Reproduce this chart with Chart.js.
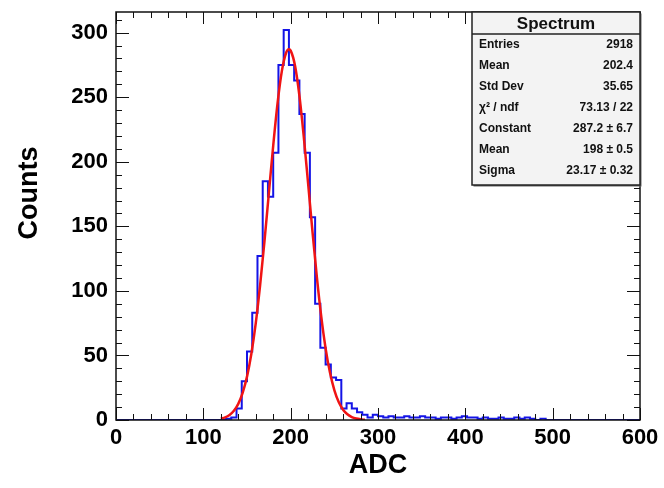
<!DOCTYPE html>
<html>
<head>
<meta charset="utf-8">
<script src="https://cdn.jsdelivr.net/npm/chart.js@4.4.0/dist/chart.umd.min.js"></script>
<style>
  html, body { margin: 0; padding: 0; background: #fff; }
</style>
</head>
<body>
<canvas id="spectrum" width="664" height="488"></canvas>
<script>
// histogram: 100 bins, 6 ADC wide, from 0 to 600
var binLow = 0;
var binWidth = 6;
var counts = [
  0, 0, 0, 0, 0, 0, 0, 0, 0, 0,
  0, 0, 0, 0, 0, 0, 0, 0, 0, 0,
  0, 1, 2, 9, 30, 53, 83, 127, 185, 173,
  207, 275, 302, 275, 263, 237, 207, 157, 90, 56,
  43, 33, 31, 9, 13, 9, 6, 4, 2, 4,
  3, 2, 3, 2, 2, 3, 2, 2, 3, 2,
  2, 1, 2, 2, 1, 2, 3, 2, 2, 1,
  2, 1, 1, 2, 1, 1, 2, 1, 2, 1,
  0, 1, 0, 0, 0, 0, 0, 0, 0, 0,
  0, 0, 0, 0, 0, 0, 0, 0, 0, 0
];

// gaussian fit curve (red)
var fitX = [120, 125, 130, 135, 140, 145, 150, 155, 160, 165, 170, 175, 180, 185, 190, 195, 198,
            200, 205, 210, 215, 220, 225, 230, 235, 240, 245, 250, 255, 260, 265, 270, 275, 280, 285];
var fitY = [1.0, 2.0, 3.9, 7.1, 12.5, 21.0, 33.6, 51.3, 74.8, 104.2, 138.4, 175.5, 212.4, 245.4, 270.6, 284.8, 287.2,
            286.1, 274.4, 251.2, 219.4, 183.0, 145.7, 110.7, 80.2, 55.5, 36.7, 23.2, 13.9, 8.0, 4.4, 2.3, 1.1, 0.5, 0.2];

var xTicks = [0, 100, 200, 300, 400, 500, 600];
var yTicks = [0, 50, 100, 150, 200, 250, 300];

var statTitle = "Spectrum";
var statLabels = ["Entries", "Mean", "Std Dev", "\u03c7\u00b2 / ndf", "Constant", "Mean", "Sigma"];
var statValues = ["2918", "202.4", "35.65", "73.13 / 22", "287.2 \u00b1 6.7", "198 \u00b1 0.5", "23.17 \u00b1 0.32"];

var FONT = '"Liberation Sans", Arial, Helvetica, sans-serif';

var histPoints = [];
for (var i = 0; i < counts.length; i++) {
  histPoints.push({ x: binLow + i * binWidth, y: counts[i] });
}
histPoints.push({ x: binLow + counts.length * binWidth, y: counts[counts.length - 1] });

var fitPoints = fitX.map(function (v, i) { return { x: v, y: fitY[i] }; });

// ROOT style frame with inward ticks on all four sides
var rootFrame = {
  id: 'rootFrame',
  afterDatasetsDraw: function (chart) {
    var ctx = chart.ctx, a = chart.chartArea;
    var sx = chart.scales.x, sy = chart.scales.y;
    ctx.save();
    ctx.strokeStyle = '#111';
    ctx.lineWidth = 1;
    ctx.beginPath();
    for (var v = 0; v <= 600; v += 20) {
      var px = Math.round(sx.getPixelForValue(v)) + 0.5;
      var len = v % 100 === 0 ? 12 : 6;
      ctx.moveTo(px, a.bottom); ctx.lineTo(px, a.bottom - len);
      ctx.moveTo(px, a.top); ctx.lineTo(px, a.top + len);
    }
    for (var w = 0; w <= 316; w += 10) {
      var py = Math.round(sy.getPixelForValue(w)) + 0.5;
      var l2 = w % 50 === 0 ? 13 : 6;
      ctx.moveTo(a.left, py); ctx.lineTo(a.left + l2, py);
      ctx.moveTo(a.right, py); ctx.lineTo(a.right - l2, py);
    }
    ctx.stroke();
    ctx.lineWidth = 1.5;
    ctx.strokeRect(a.left, a.top, a.right - a.left, a.bottom - a.top);
    ctx.restore();
  },
  afterDraw: function (chart) {
    var ctx = chart.ctx;
    ctx.save();
    // axis titles
    ctx.fillStyle = '#000';
    ctx.font = 'bold 27px ' + FONT;
    ctx.textAlign = 'center';
    ctx.textBaseline = 'middle';
    ctx.fillText('ADC', 378, 466);
    ctx.translate(30, 193);
    ctx.rotate(-Math.PI / 2);
    ctx.fillText('Counts', 0, 0);
    ctx.restore();

    // stats box
    var bx = 472, by = 12, bw = 168, bh = 173, head = 22, row = 21;
    ctx.save();
    ctx.fillStyle = '#666';
    ctx.fillRect(bx + 1.5, by + 1.5, bw, bh);
    ctx.fillStyle = '#f3f3f3';
    ctx.fillRect(bx, by, bw, bh);
    ctx.strokeStyle = '#222';
    ctx.lineWidth = 1.5;
    ctx.strokeRect(bx, by, bw, bh);
    ctx.beginPath();
    ctx.moveTo(bx, by + head); ctx.lineTo(bx + bw, by + head);
    ctx.stroke();
    ctx.fillStyle = '#111';
    ctx.font = 'bold 17px ' + FONT;
    ctx.textAlign = 'center';
    ctx.textBaseline = 'middle';
    ctx.fillText(statTitle, bx + bw / 2, by + head / 2 + 1);
    ctx.font = 'bold 12px ' + FONT;
    for (var k = 0; k < statLabels.length; k++) {
      var ty = by + head + 11 + k * row;
      ctx.textAlign = 'left';
      ctx.fillText(statLabels[k], bx + 7, ty);
      ctx.textAlign = 'right';
      ctx.fillText(statValues[k], bx + bw - 7, ty);
    }
    ctx.restore();
  }
};

new Chart(document.getElementById('spectrum'), {
  type: 'line',
  data: {
    datasets: [
      {
        label: 'Gaussian fit',
        data: fitPoints,
        borderColor: '#f01414',
        borderWidth: 2.5,
        pointRadius: 0,
        fill: false,
        cubicInterpolationMode: 'monotone'
      },
      {
        label: 'Spectrum',
        data: histPoints,
        borderColor: '#1414e6',
        borderWidth: 2,
        pointRadius: 0,
        fill: false,
        stepped: 'before'
      }
    ]
  },
  options: {
    responsive: false,
    animation: false,
    devicePixelRatio: 1,
    layout: { padding: { left: 0, right: 24, top: 12, bottom: 0 } },
    plugins: { legend: { display: false }, tooltip: { enabled: false } },
    scales: {
      x: {
        type: 'linear',
        min: 0,
        max: 600,
        afterBuildTicks: function (s) { s.ticks = xTicks.map(function (v) { return { value: v }; }); },
        afterFit: function (s) { s.height = 68; s.paddingLeft = 0; s.paddingRight = 0; },
        grid: { display: false, drawTicks: false },
        border: { display: false },
        ticks: {
          color: '#000',
          padding: 5,
          maxRotation: 0,
          autoSkip: false,
          font: { family: FONT, size: 22, weight: 'bold' }
        }
      },
      y: {
        type: 'linear',
        min: 0,
        max: 316,
        afterBuildTicks: function (s) { s.ticks = yTicks.map(function (v) { return { value: v }; }); },
        afterFit: function (s) { s.width = 116; s.paddingTop = 0; s.paddingBottom = 0; },
        grid: { display: false, drawTicks: false },
        border: { display: false },
        ticks: {
          color: '#000',
          padding: 8,
          autoSkip: false,
          font: { family: FONT, size: 22, weight: 'bold' }
        }
      }
    }
  },
  plugins: [rootFrame]
});
</script>
</body>
</html>
